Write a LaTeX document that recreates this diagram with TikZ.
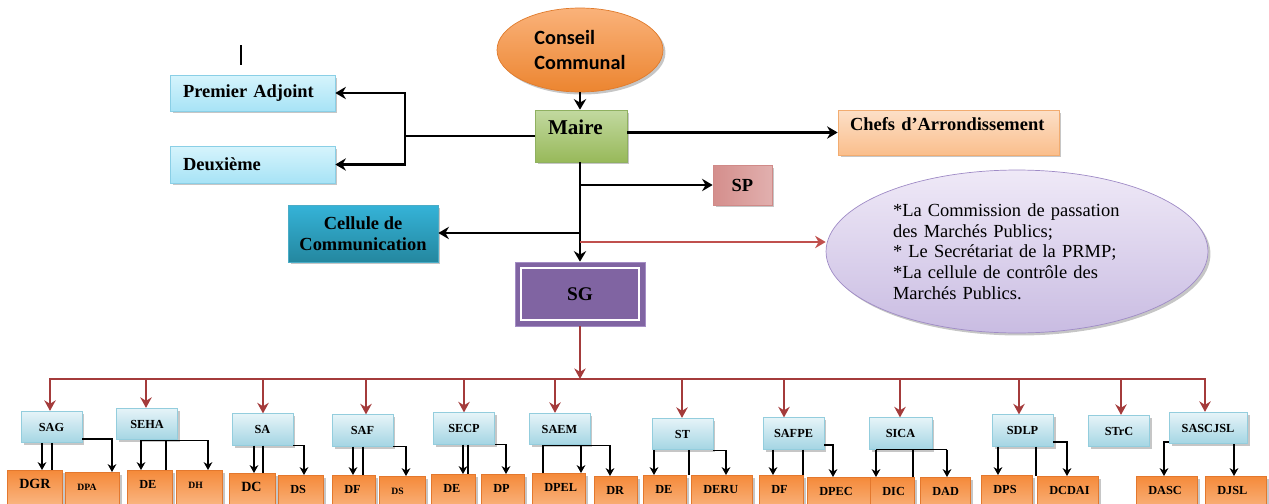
\documentclass[tikz,border=0pt]{standalone}
\usepackage{fontspec}
\setmainfont{Liberation Serif}
\newfontfamily\calibri{Carlito}
\usetikzlibrary{arrows.meta,shapes.geometric,shadows}

\definecolor{ccTop}{HTML}{FAB27A}
\definecolor{ccBot}{HTML}{EC8530}
\definecolor{ccEdge}{HTML}{E07B2C}
\definecolor{paTop}{HTML}{D6F4FC}
\definecolor{paBot}{HTML}{A7E3F6}
\definecolor{paEdge}{HTML}{8ACFE6}
\definecolor{maTop}{HTML}{C2D9A0}
\definecolor{maBot}{HTML}{98B95A}
\definecolor{maEdge}{HTML}{8FB060}
\definecolor{chTop}{HTML}{FCE0C8}
\definecolor{chBot}{HTML}{FABE8C}
\definecolor{chEdge}{HTML}{F2AC70}
\definecolor{spDark}{HTML}{D48E8C}
\definecolor{spLight}{HTML}{F5E2E1}
\definecolor{spEdge}{HTML}{D08A88}
\definecolor{ceTop}{HTML}{35B3D8}
\definecolor{ceBot}{HTML}{24879F}
\definecolor{ceEdge}{HTML}{4BACC6}
\definecolor{sgFill}{HTML}{8064A2}
\definecolor{sgEdge}{HTML}{A48DC4}
\definecolor{cmTop}{HTML}{EFE9F7}
\definecolor{cmBot}{HTML}{C9BCE2}
\definecolor{cmEdge}{HTML}{9F8BC6}
\definecolor{sTop}{HTML}{E6F4F8}
\definecolor{sBot}{HTML}{A4D5E3}
\definecolor{sEdge}{HTML}{93CDDD}
\definecolor{dTop}{HTML}{F58A3A}
\definecolor{dBot}{HTML}{FDD9BC}
\definecolor{dEdge}{HTML}{E3782E}
\definecolor{barRed}{HTML}{A43B3B}
\definecolor{cmRed}{HTML}{C0504D}

\begin{document}
\begin{tikzpicture}[x=0.02cm, y=-0.02cm,
  shad/.style={drop shadow={shadow xshift=0.05cm, shadow yshift=-0.05cm, fill=black!50, opacity=0.45}},
  pbox/.style={draw=paEdge, top color=paTop, bottom color=paBot, text width=2.78cm, inner xsep=0.26cm, align=left, font=\bfseries\fontsize{10.5}{12}\selectfont, shad},
  sbox/.style={draw=sEdge, top color=sTop, bottom color=sBot, minimum width=1.22cm, minimum height=0.63cm, inner sep=1pt, font=\bfseries\fontsize{7}{8}\selectfont, shad},
  dbox/.style={anchor=north west, draw=dEdge, top color=dTop, bottom color=dBot, inner xsep=0.24cm, inner ysep=0pt, text height=0.36cm, text depth=0.9cm, align=left, font=\bfseries\fontsize{7}{8}\selectfont, shad},
  dsmall/.style={font=\bfseries\fontsize{5.5}{6}\selectfont},
  dbig/.style={font=\bfseries\fontsize{8}{9}\selectfont},
  blk/.style={draw=black, line width=1.5pt},
  blkarr/.style={blk, -{Stealth[length=6pt,width=7pt]}},
  redline/.style={draw=barRed, line width=1.6pt},
  redarr/.style={redline, -{Stealth[length=6pt,width=6.5pt]}},
  sub/.style={draw=black, line width=0.6pt},
  subarr/.style={sub, -{Stealth[length=4.5pt,width=5pt]}}]
\useasboundingbox (0,0) rectangle (1269,504);

\draw[line width=0.6pt] (241,45) -- (241,65);

\node[ellipse, draw=ccEdge, top color=ccTop, bottom color=ccBot, minimum width=3.32cm, minimum height=1.68cm, align=left, font=\calibri\bfseries\fontsize{11.5}{13.7}\selectfont, shad] (cc) at (580,50) {Conseil\\Communal};
\node[draw=maEdge, top color=maTop, bottom color=maBot, text width=1.32cm, inner xsep=0.26cm, align=left, inner ysep=0pt, text height=0.48cm, text depth=0.56cm, font=\bfseries\fontsize{12}{14}\selectfont, shad] (maire) at (581,136) {Maire};
\node[pbox, minimum height=0.72cm] (pa) at (252.5,93) {Premier Adjoint};
\node[pbox, minimum height=0.74cm] (dx) at (252.5,164.5) {Deuxième};
\node[draw=chEdge, top color=chTop, bottom color=chBot, text width=3.94cm, inner xsep=0.24cm, align=left, inner ysep=0pt, text height=0.4cm, text depth=0.5cm, font=\bfseries\fontsize{10.5}{12}\selectfont, shad] (chefs) at (948.5,132.5) {Chefs d’Arrondissement};
\node[draw=spEdge, left color=spDark, middle color=spLight, right color=spDark!60!spLight, minimum width=1.18cm, minimum height=0.8cm, font=\bfseries\fontsize{10.5}{12}\selectfont, shad] (sp) at (742.5,185) {SP};
\node[draw=ceEdge, top color=ceTop, bottom color=ceBot, minimum width=3cm, minimum height=1.14cm, align=center, font=\bfseries\fontsize{10.5}{12}\selectfont, shad] (cell) at (363,233.5) {Cellule de\\Communication};
\node[draw=sgEdge, fill=sgFill, minimum width=2.6cm, minimum height=1.28cm, font=\bfseries\fontsize{11}{13}\selectfont] (sg) at (580,294) {SG};
\draw[white, line width=1.2pt] ([shift={(6,6)}]sg.north west) rectangle ([shift={(-6,-6)}]sg.south east);
\node[ellipse, draw=cmEdge, top color=cmTop, bottom color=cmBot, minimum width=7.64cm, minimum height=3.26cm, text width=4.96cm, align=left, font=\fontsize{10.5}{11.8}\selectfont, shad] (cmp) at (1017,251.5) {*La Commission de passation\\des Marchés Publics;\\{}* Le Secrétariat de la PRMP;\\{}*La cellule de contrôle des\\Marchés Publics.};

\node[sbox] (sag) at (51.5,427) {SAG};
\node[sbox] (seha) at (147,424) {SEHA};
\node[sbox] (sa) at (262.5,429.5) {SA};
\node[sbox] (saf) at (362.5,430.5) {SAF};
\node[sbox] (secp) at (464,428.5) {SECP};
\node[sbox] (saem) at (559.5,429) {SAEM};
\node[sbox] (st) at (682.5,434) {ST};
\node[sbox] (safpe) at (793.5,433.5) {SAFPE};
\node[sbox, minimum width=1.26cm] (sica) at (900.5,433.5) {SICA};
\node[sbox] (sdlp) at (1022.5,430.5) {SDLP};
\node[sbox] (strc) at (1119,431) {STrC};
\node[sbox, minimum width=1.56cm] (sascjsl) at (1208,428) {SASCJSL};

\node[dbox, dbig, text width=0.62cm] (dgr) at (7,470) {DGR};
\node[dbox, dsmall, text width=0.6cm] (dpa) at (65,472) {DPA};
\node[dbox, text width=0.42cm] (de1) at (127,470) {DE};
\node[dbox, dsmall, text width=0.44cm] (dh) at (176,470) {DH};
\node[dbox, dbig, text width=0.44cm] (dc) at (229,473) {DC};
\node[dbox, text width=0.42cm] (ds1) at (278,475) {DS};
\node[dbox, text width=0.38cm] (df1) at (332,475) {DF};
\node[dbox, dsmall, text width=0.44cm] (ds2) at (379,476) {DS};
\node[dbox, text width=0.4cm] (de2) at (431,474) {DE};
\node[dbox, text width=0.38cm] (dp) at (481,474) {DP};
\node[dbox, text width=0.58cm] (dpel) at (532,473) {DPEL};
\node[dbox, text width=0.38cm] (dr) at (594,476) {DR};
\node[dbox, text width=0.38cm] (de3) at (643,475) {DE};
\node[dbox, text width=0.74cm] (deru) at (691,475) {DERU};
\node[dbox, text width=0.4cm] (df2) at (759,475) {DF};
\node[dbox, text width=0.78cm] (dpec) at (807,477) {DPEC};
\node[dbox, text width=0.4cm] (dic) at (870,477) {DIC};
\node[dbox, text width=0.52cm] (dad) at (920,477) {DAD};
\node[dbox, text width=0.54cm] (dps) at (981,475) {DPS};
\node[dbox, text width=0.74cm] (dcdai) at (1037,476) {DCDAI};
\node[dbox, text width=0.74cm] (dasc) at (1136,476) {DASC};
\node[dbox, text width=0.74cm] (djsl) at (1205,476) {DJSL};

\coordinate (j1) at (405,136);
\coordinate (t1) at (580,185);
\coordinate (t2) at (580,233);
\coordinate (t3) at (580,242);
\draw[blkarr, line width=1.7pt] (cc.south) -- (maire.north -| cc.south);
\draw[blk] (maire.west) -- (j1);
\draw[blkarr] (j1) |- (pa.east);
\draw[blkarr] (j1) |- (dx.east);
\draw[blkarr] (maire.east |- chefs.west) -- (chefs.west);
\draw[blkarr, line width=1.1pt] (maire.south -| sg.north) -- (sg.north);
\draw[blkarr, line width=1.3pt] (t1) -- (sp.west);
\draw[blkarr, line width=1.3pt] (t2) -- (t2 -| cell.east);
\draw[draw=cmRed, line width=1.1pt, -{Stealth[length=6pt,width=7pt]}] (t3) -- (t3 -| cmp.west);

\coordinate (b1) at (50,379);
\coordinate (b2) at (146,379);
\coordinate (b3) at (263,379);
\coordinate (b4) at (366,379);
\coordinate (b5) at (464,379);
\coordinate (b6) at (555,379);
\coordinate (b7) at (682,379);
\coordinate (b8) at (784,379);
\coordinate (b9) at (900,379);
\coordinate (b10) at (1019,379);
\coordinate (b11) at (1121,379);
\coordinate (b12) at (1205,379);
\draw[redarr] (sg.south) -- (sg.south |- b1);
\draw[redline, {Stealth[length=6pt,width=6.5pt]}-{Stealth[length=6pt,width=6.5pt]}] (b1 |- sag.north) -- (b1) -- (b12) -- (b12 |- sascjsl.north);
\draw[redarr] (b2) -- (b2 |- seha.north);
\draw[redarr] (b3) -- (b3 |- sa.north);
\draw[redarr] (b4) -- (b4 |- saf.north);
\draw[redarr] (b5) -- (b5 |- secp.north);
\draw[redarr] (b6) -- (b6 |- saem.north);
\draw[redarr] (b7) -- (b7 |- st.north);
\draw[redarr] (b8) -- (b8 |- safpe.north);
\draw[redarr] (b9) -- (b9 |- sica.north);
\draw[redarr] (b10) -- (b10 |- sdlp.north);
\draw[redarr] (b11) -- (b11 |- strc.north);

\draw[subarr] (sag.south -| 42,0) -- (dgr.north -| 42,0);
\draw[sub] (sag.south -| 52,0) -- (dgr.north -| 52,0);
\draw[subarr] (sag.east |- 0,439) -| (dpa.north -| 112,0);
\draw[subarr] (seha.south -| 141,0) -- (de1.north -| 141,0);
\draw[sub] (seha.south -| 166,0) -- (de1.north -| 166,0);
\draw[subarr] (seha.south -| 141,0) -| (dh.north -| 208,0);
\draw[subarr] (sa.south -| 254,0) -- (dc.north -| 254,0);
\draw[sub] (sa.south -| 263,0) -- (dc.north -| 263,0);
\draw[subarr] (sa.south east) -| (ds1.north -| 304,0);
\draw[subarr] (saf.south -| 353,0) -- (df1.north -| 353,0);
\draw[sub] (saf.south -| 363,0) -- (df1.north -| 363,0);
\draw[subarr] (saf.south east) -| (ds2.north -| 406,0);
\draw[subarr] (secp.south -| 463,0) -- (de2.north -| 463,0);
\draw[sub] (secp.south -| 468,0) -- (de2.north -| 468,0);
\draw[subarr] (secp.south east) -| (dp.north -| 506,0);
\draw[sub] (dpel.north -| 543,0) |- (saem.south -| 610,0);
\draw[subarr] (saem.south -| 581,0) -- (dpel.north -| 581,0);
\draw[subarr] (saem.south -| 610,0) -- (dr.north -| 610,0);
\draw[subarr] (st.south -| 654,0) -- (de3.north -| 654,0);
\draw[sub] (st.south -| 689,0) -- (de3.north -| 689,0);
\draw[subarr] (st.south east) -| (deru.north -| 726,0);
\draw[subarr] (safpe.south -| 773,0) -- (df2.north -| 773,0);
\draw[sub] (safpe.south -| 803,0) -- (df2.north -| 803,0);
\draw[subarr] (safpe.east |- 0,445) -| (dpec.north -| 833,0);
\draw[sub] (sica.south -| 876,0) -- (sica.south -| 947,0);
\draw[subarr] (sica.south -| 876,0) -- (dic.north -| 876,0);
\draw[sub] (sica.south -| 913,0) -- (dic.north -| 913,0);
\draw[subarr] (sica.south -| 947,0) -- (dad.north -| 947,0);
\draw[subarr] (sdlp.south -| 998,0) -- (dps.north -| 998,0);
\draw[sub] (sdlp.south -| 1036,0) -- (dcdai.north -| 1036,0);
\draw[subarr] (sdlp.east |- 0,442) -| (dcdai.north -| 1067,0);
\draw[subarr] (sascjsl.west |- 0,442) -| (dasc.north -| 1164,0);
\draw[subarr] (sascjsl.south -| 1234,0) -- (djsl.north -| 1234,0);
\end{tikzpicture}
\end{document}
